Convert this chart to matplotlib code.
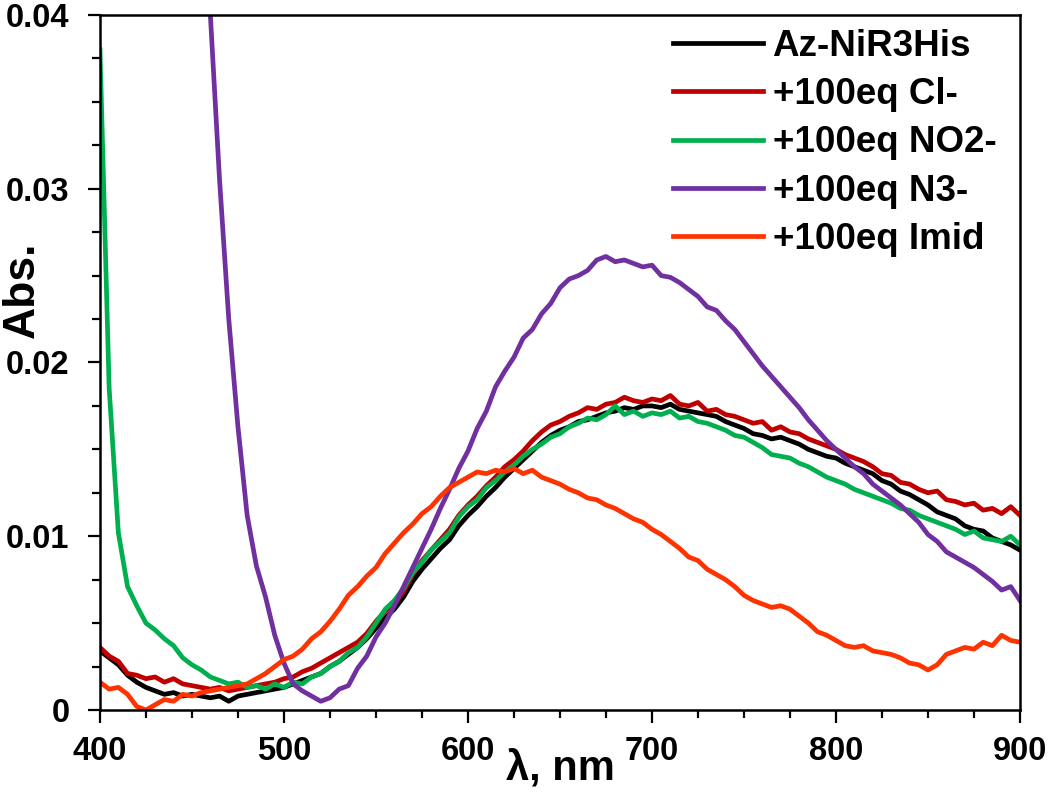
import numpy as np
import matplotlib
matplotlib.use('Agg')
import matplotlib.pyplot as plt

plt.rcParams['font.family'] = ['Liberation Sans', 'DejaVu Sans']
plt.rcParams['font.weight'] = 'bold'

nan = np.nan

#Wavelength grid, 5 nm steps from 400 to 900
wavelength = list(range(400, 905, 5))

#Absorbance values
abs_az = [0.0034, 0.0030, 0.0026, 0.0020, 0.0016, 0.0013, 0.0011, 0.0009, 0.0010, 0.0008,
          0.0009, 0.0008, 0.0007, 0.0008, 0.0005, 0.0008, 0.0009, 0.0010, 0.0011, 0.0012,
          0.0013, 0.0015, 0.0017, 0.0019, 0.0021, 0.0025, 0.0028, 0.0032, 0.0036, 0.0041,
          0.0047, 0.0053, 0.0058, 0.0065, 0.0074, 0.0081, 0.0087, 0.0093, 0.0098, 0.0106,
          0.0112, 0.0117, 0.0123, 0.0128, 0.0134, 0.0139, 0.0144, 0.0149, 0.0154, 0.0158,
          0.0161, 0.0163, 0.0166, 0.0167, 0.0169, 0.0171, 0.0172, 0.0174, 0.0173, 0.0175,
          0.0175, 0.0174, 0.0176, 0.0173, 0.0172, 0.0171, 0.0170, 0.0169, 0.0166, 0.0164,
          0.0162, 0.0159, 0.0158, 0.0156, 0.0157, 0.0155, 0.0153, 0.0150, 0.0148, 0.0146,
          0.0145, 0.0142, 0.0140, 0.0138, 0.0136, 0.0132, 0.0130, 0.0126, 0.0124, 0.0121,
          0.0118, 0.0114, 0.0112, 0.0110, 0.0106, 0.0104, 0.0103, 0.0099, 0.0097, 0.0095,
          0.0092]

abs_cl = [0.0036, 0.0031, 0.0028, 0.0021, 0.0020, 0.0018, 0.0019, 0.0016, 0.0018, 0.0015,
          0.0014, 0.0013, 0.0012, 0.0013, 0.0011, 0.0012, 0.0013, 0.0014, 0.0015, 0.0016,
          0.0018, 0.0019, 0.0022, 0.0024, 0.0027, 0.0030, 0.0033, 0.0036, 0.0039, 0.0044,
          0.0051, 0.0057, 0.0061, 0.0068, 0.0078, 0.0086, 0.0092, 0.0098, 0.0104, 0.0112,
          0.0118, 0.0123, 0.0129, 0.0134, 0.0140, 0.0144, 0.0149, 0.0155, 0.0160, 0.0164,
          0.0166, 0.0169, 0.0171, 0.0174, 0.0173, 0.0176, 0.0177, 0.0180, 0.0178, 0.0177,
          0.0179, 0.0178, 0.0181, 0.0176, 0.0175, 0.0177, 0.0172, 0.0173, 0.0170, 0.0169,
          0.0167, 0.0165, 0.0166, 0.0161, 0.0163, 0.0160, 0.0159, 0.0156, 0.0154, 0.0152,
          0.0150, 0.0147, 0.0145, 0.0143, 0.0140, 0.0136, 0.0135, 0.0131, 0.0130, 0.0127,
          0.0125, 0.0126, 0.0121, 0.0120, 0.0118, 0.0119, 0.0115, 0.0116, 0.0113, 0.0117,
          0.0112]

abs_no2 = [0.0380, 0.0185, 0.0102, 0.0071, 0.0060, 0.0050, 0.0046, 0.0041, 0.0037, 0.0030,
           0.0026, 0.0023, 0.0019, 0.0017, 0.0015, 0.0016, 0.0013, 0.0014, 0.0012, 0.0015,
           0.0013, 0.0016, 0.0015, 0.0019, 0.0021, 0.0025, 0.0028, 0.0033, 0.0036, 0.0042,
           0.0050, 0.0058, 0.0063, 0.0070, 0.0079, 0.0085, 0.0092, 0.0097, 0.0102, 0.0111,
           0.0117, 0.0121, 0.0128, 0.0132, 0.0137, 0.0141, 0.0146, 0.0150, 0.0153, 0.0157,
           0.0159, 0.0163, 0.0165, 0.0168, 0.0167, 0.0170, 0.0175, 0.0170, 0.0172, 0.0169,
           0.0171, 0.0170, 0.0172, 0.0168, 0.0169, 0.0166, 0.0165, 0.0163, 0.0161, 0.0158,
           0.0157, 0.0154, 0.0151, 0.0147, 0.0146, 0.0145, 0.0142, 0.0140, 0.0137, 0.0134,
           0.0132, 0.0130, 0.0127, 0.0125, 0.0123, 0.0121, 0.0119, 0.0116, 0.0115, 0.0112,
           0.0110, 0.0108, 0.0106, 0.0104, 0.0101, 0.0103, 0.0099, 0.0098, 0.0097, 0.0100,
           0.0095]

#N3- values below 455 nm are off scale
abs_n3 = [nan, nan, nan, nan, nan, nan, nan, nan, nan, nan,
          nan, 0.0470, 0.0400, 0.0305, 0.0225, 0.0163, 0.0112, 0.0083, 0.0065, 0.0043,
          0.0027, 0.0015, 0.0011, 0.0008, 0.0005, 0.0007, 0.0012, 0.0014, 0.0024, 0.0031,
          0.0042, 0.0050, 0.0060, 0.0071, 0.0082, 0.0093, 0.0104, 0.0116, 0.0127, 0.0139,
          0.0149, 0.0162, 0.0172, 0.0186, 0.0195, 0.0203, 0.0214, 0.0219, 0.0228, 0.0234,
          0.0243, 0.0248, 0.0250, 0.0253, 0.0259, 0.0261, 0.0258, 0.0259, 0.0257, 0.0255,
          0.0256, 0.0250, 0.0249, 0.0246, 0.0242, 0.0238, 0.0232, 0.0230, 0.0224, 0.0219,
          0.0212, 0.0205, 0.0198, 0.0192, 0.0186, 0.0180, 0.0174, 0.0167, 0.0161, 0.0155,
          0.0150, 0.0145, 0.0140, 0.0136, 0.0130, 0.0126, 0.0122, 0.0118, 0.0113, 0.0108,
          0.0101, 0.0097, 0.0091, 0.0088, 0.0085, 0.0082, 0.0078, 0.0074, 0.0069, 0.0071,
          0.0063]

abs_imid = [0.0016, 0.0012, 0.0013, 0.0009, 0.0002, 0.0000, 0.0003, 0.0006, 0.0005, 0.0009,
            0.0008, 0.0010, 0.0011, 0.0012, 0.0013, 0.0014, 0.0015, 0.0018, 0.0021, 0.0025,
            0.0029, 0.0031, 0.0035, 0.0041, 0.0045, 0.0051, 0.0058, 0.0066, 0.0071, 0.0077,
            0.0082, 0.0090, 0.0096, 0.0102, 0.0107, 0.0113, 0.0117, 0.0123, 0.0128, 0.0131,
            0.0134, 0.0137, 0.0136, 0.0138, 0.0137, 0.0139, 0.0136, 0.0138, 0.0134, 0.0132,
            0.0130, 0.0127, 0.0125, 0.0122, 0.0121, 0.0118, 0.0116, 0.0113, 0.0110, 0.0108,
            0.0104, 0.0101, 0.0097, 0.0093, 0.0088, 0.0086, 0.0081, 0.0078, 0.0075, 0.0071,
            0.0066, 0.0063, 0.0061, 0.0059, 0.0060, 0.0058, 0.0054, 0.0050, 0.0045, 0.0043,
            0.0040, 0.0037, 0.0036, 0.0037, 0.0034, 0.0033, 0.0032, 0.0030, 0.0027, 0.0026,
            0.0023, 0.0026, 0.0032, 0.0034, 0.0036, 0.0035, 0.0039, 0.0037, 0.0043, 0.0040,
            0.0039]

series_labels = ['Az-NiR3His', '+100eq Cl-', '+100eq NO2-', '+100eq N3-', '+100eq Imid']
series_colors = ['#000000', '#C00000', '#00B050', '#7030A0', '#FF3300']
series_data = [abs_az, abs_cl, abs_no2, abs_n3, abs_imid]

fig = plt.figure(figsize=(10.5, 7.97), dpi=100)
ax = fig.add_axes([0.0952, 0.1092, 0.8762, 0.872])

for i in range(0, len(series_data)):
    ax.plot(wavelength, series_data[i], '-', color=series_colors[i], lw=3.4,
            label=series_labels[i])

ax.set_xlim(400, 900)
ax.set_ylim(0, 0.04)
ax.set_xticks([400, 500, 600, 700, 800, 900])
ax.set_xticks(np.arange(400, 901, 25), minor=True)
ax.set_yticks([0, 0.01, 0.02, 0.03, 0.04])
ax.set_yticks(np.arange(0, 0.0401, 0.0025), minor=True)
ax.set_yticklabels(['0', '0.01', '0.02', '0.03', '0.04'])

for side in ['left', 'bottom', 'top', 'right']:
    ax.spines[side].set_linewidth(1.8)

ax.tick_params(axis='both', which='major', direction='out', length=9, width=1.6,
               labelsize=23.5, top=False, right=False)
ax.tick_params(axis='both', which='minor', direction='out', length=6, width=1.6,
               top=False, right=False)
ax.tick_params(axis='x', which='major', pad=10)
ax.tick_params(axis='y', which='major', pad=13)

ax.set_xlabel('λ, nm', fontsize=30, fontweight='bold')
ax.xaxis.set_label_coords(0.5, -0.055)
ax.set_ylabel('Abs.', fontsize=32, fontweight='bold')
ax.yaxis.set_label_coords(-0.062, 0.604)

ax.legend(loc='upper left', bbox_to_anchor=(0.623, 0.98), frameon=False,
          fontsize=26.5, handlelength=2.45, handletextpad=0.25,
          labelspacing=0.36, borderpad=0, borderaxespad=0)

plt.savefig('out.png', dpi=100)
